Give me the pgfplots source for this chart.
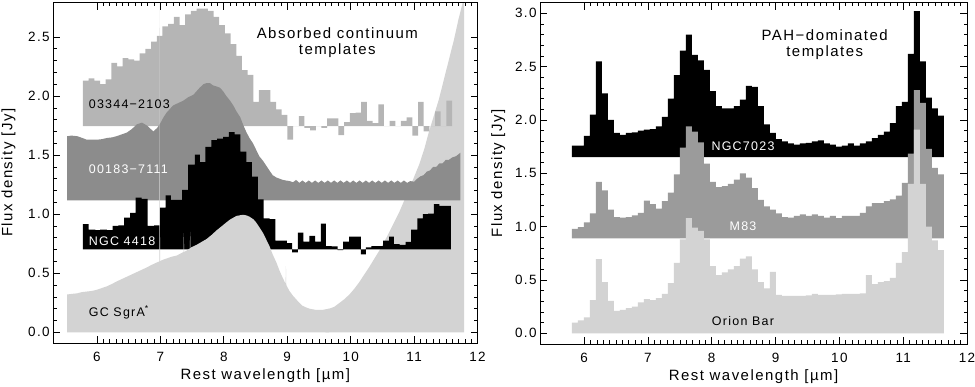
\documentclass[border=0pt]{standalone}
\usepackage{fontspec}
\setmainfont{Liberation Sans}[LetterSpace=10]
\usepackage{pgfplots}
\pgfplotsset{compat=1.18}
\usepackage{pgfplotstable}

\definecolor{cLight}{RGB}{211,211,211}
\definecolor{cB}{RGB}{181,181,181}
\definecolor{cC}{RGB}{140,140,140}
\definecolor{cD}{RGB}{155,155,155}

% ---------- left panel data ----------
\pgfplotstableread{
x y
5.780 1.745
5.780 2.13
5.870 2.15
5.959 2.13
6.049 2.10
6.138 2.14
6.228 2.28
6.317 2.25
6.407 2.32
6.496 2.31
6.586 2.30
6.675 2.36
6.765 2.40
6.854 2.46
6.944 2.51
7.033 2.59
7.123 2.61
7.212 2.67
7.302 2.60
7.391 2.69
7.481 2.72
7.570 2.74
7.660 2.74
7.749 2.72
7.839 2.67
7.928 2.60
8.018 2.53
8.108 2.44
8.197 2.34
8.287 2.22
8.376 2.18
8.466 1.95
8.555 2.05
8.645 2.05
8.734 1.95
8.824 1.886
8.913 1.84
9.003 1.63
9.092 1.745
9.182 1.83
9.271 1.73
9.361 1.71
9.450 1.745
9.540 1.73
9.629 1.81
9.719 1.81
9.808 1.67
9.898 1.78
9.987 1.855
10.077 1.86
10.166 1.95
10.256 1.79
10.346 1.77
10.435 1.93
10.525 1.745
10.614 1.79
10.704 1.745
10.793 1.79
10.883 1.82
10.972 1.665
11.062 1.95
11.151 1.70
11.241 1.745
11.330 1.87
11.420 1.745
11.509 1.96
11.599 1.96
11.599 1.745
}\tabIRAS

\pgfplotstableread{
x y
5.780 0.703
5.780 0.915
5.869 0.87
5.974 0.865
6.052 0.87
6.157 0.865
6.246 0.90
6.340 0.905
6.429 0.97
6.523 1.01
6.612 1.14
6.706 1.13
6.801 0.90
6.900 0.905
6.994 1.056
7.083 1.16
7.165 1.12
7.255 1.12
7.345 1.205
7.439 1.42
7.543 1.505
7.622 1.44
7.711 1.57
7.805 1.627
7.894 1.64
7.988 1.655
8.082 1.695
8.171 1.675
8.260 1.53
8.355 1.44
8.444 1.317
8.538 1.126
8.627 0.965
8.721 0.957
8.815 0.775
8.904 0.775
8.993 0.755
9.077 0.676
9.166 0.844
9.255 0.768
9.349 0.817
9.438 0.768
9.532 0.92
9.610 0.73
9.700 0.727
9.793 0.695
9.882 0.768
9.977 0.81
10.066 0.81
10.160 0.66
10.238 0.718
10.327 0.73
10.421 0.73
10.510 0.775
10.605 0.81
10.683 0.746
10.772 0.74
10.866 0.765
10.955 0.87
11.050 0.965
11.138 1.00
11.222 1.005
11.311 1.085
11.400 1.07
11.494 1.07
11.578 1.07
11.578 0.703
}\tabNGCfour

% ---------- right panel data ----------
\pgfplotstableread{
x y
5.810 1.651
5.810 1.76
5.904 1.76
5.998 1.85
6.092 2.05
6.186 2.55
6.280 2.25
6.374 2.00
6.468 1.88
6.562 1.86
6.656 1.88
6.750 1.885
6.844 1.90
6.938 1.91
7.032 1.915
7.126 1.94
7.220 2.03
7.314 2.20
7.408 2.42
7.502 2.65
7.596 2.80
7.690 2.61
7.784 2.56
7.878 2.47
7.972 2.27
8.066 2.13
8.160 2.11
8.254 2.11
8.348 2.13
8.442 2.19
8.536 2.32
8.630 2.31
8.724 2.13
8.818 1.96
8.912 1.88
9.006 1.82
9.100 1.80
9.194 1.78
9.288 1.77
9.382 1.78
9.476 1.785
9.570 1.80
9.664 1.81
9.758 1.78
9.852 1.77
9.946 1.75
10.040 1.76
10.134 1.78
10.228 1.76
10.322 1.78
10.416 1.80
10.510 1.83
10.604 1.86
10.698 1.89
10.792 1.97
10.886 2.13
10.980 2.17
11.074 2.62
11.168 3.02
11.262 2.55
11.356 2.21
11.450 2.11
11.544 2.04
11.638 2.04
11.638 1.651
}\tabNGCseven

\pgfplotstableread{
x y
5.810 0.891
5.810 0.98
5.904 0.995
5.998 1.04
6.092 1.125
6.186 1.42
6.280 1.34
6.374 1.16
6.468 1.09
6.562 1.085
6.656 1.09
6.750 1.105
6.844 1.13
6.938 1.245
7.032 1.21
7.126 1.17
7.220 1.24
7.314 1.32
7.408 1.49
7.502 1.74
7.596 1.94
7.690 1.89
7.784 1.79
7.878 1.59
7.972 1.42
8.066 1.37
8.160 1.38
8.254 1.40
8.348 1.44
8.442 1.50
8.536 1.46
8.630 1.36
8.724 1.25
8.818 1.19
8.912 1.16
9.006 1.125
9.100 1.09
9.194 1.085
9.288 1.10
9.382 1.115
9.476 1.10
9.570 1.115
9.664 1.10
9.758 1.085
9.852 1.10
9.946 1.08
10.040 1.10
10.134 1.10
10.228 1.10
10.322 1.13
10.416 1.19
10.510 1.22
10.604 1.22
10.698 1.24
10.792 1.255
10.886 1.29
10.980 1.41
11.074 1.685
11.168 2.28
11.262 2.16
11.356 1.73
11.450 1.55
11.544 1.49
11.638 1.49
11.638 0.891
}\tabMeightthree

\pgfplotstableread{
x y
5.810 0
5.810 0.10
5.904 0.12
5.998 0.15
6.092 0.31
6.186 0.695
6.280 0.48
6.374 0.305
6.468 0.21
6.562 0.22
6.656 0.235
6.750 0.25
6.844 0.29
6.938 0.32
7.032 0.31
7.126 0.33
7.220 0.37
7.314 0.47
7.408 0.66
7.502 0.88
7.596 1.08
7.690 0.99
7.784 0.96
7.878 0.88
7.972 0.63
8.066 0.545
8.160 0.57
8.254 0.60
8.348 0.63
8.442 0.70
8.536 0.72
8.630 0.60
8.724 0.48
8.818 0.42
8.912 0.575
9.006 0.36
9.100 0.35
9.194 0.35
9.288 0.35
9.382 0.35
9.476 0.355
9.570 0.37
9.664 0.36
9.758 0.36
9.852 0.36
9.946 0.365
10.040 0.37
10.134 0.37
10.228 0.37
10.322 0.375
10.416 0.545
10.510 0.46
10.604 0.48
10.698 0.49
10.792 0.52
10.886 0.66
10.980 0.76
11.074 1.40
11.168 1.91
11.262 1.40
11.356 1.00
11.450 0.87
11.544 0.78
11.638 0.78
11.638 0
}\tabOrion

\pgfplotsset{
  panel/.style={
    scale only axis,
    xmin=5.31, xmax=12,
    xtick={6,7,8,9,10,11,12},
    minor x tick num=9,
    minor y tick num=4,
    tick align=inside,
    major tick length=7pt,
    minor tick length=3.5pt,
    axis line style={line width=0.8pt},
    every tick/.style={black, line width=0.6pt},
    /pgf/number format/assume math mode=true,
    tick label style={font=\fontsize{13.5}{16}\selectfont},
    yticklabel style={/pgf/number format/fixed, /pgf/number format/fixed zerofill, /pgf/number format/precision=1},
    xticklabel style={yshift=-6pt},
    label style={font=\fontsize{15}{18}\selectfont},
    xlabel={Rest wavelength [µm]},
    ylabel={Flux density [Jy]},
    xlabel style={at={(axis description cs:0.5,-0.097)}, anchor=center},
    axis on top,
  },
}
\tikzset{
  lab/.style={inner sep=0pt, font=\fontsize{12.5}{15}\selectfont},
  ttl/.style={inner sep=0pt, font=\fontsize{15}{18}\selectfont},
}

\begin{document}
\begin{tikzpicture}
\path[use as bounding box] (0,0) rectangle (978pt,388pt);

% ================= LEFT PANEL =================
\begin{axis}[panel,
  at={(53.3pt,44pt)}, anchor=south west,
  width=425.7pt, height=341.3pt,
  ymin=-0.09, ymax=2.79,
  ytick={0,0.5,1,1.5,2,2.5},
  ylabel style={at={(axis description cs:-0.105,0.5)}, anchor=center},
]
% GC SgrA* (rising right part, drawn first)
\addplot[fill=cLight, draw=none] coordinates {
(9.60,0) (9.60,0.193) (9.66,0.20) (9.74,0.215) (9.82,0.247) (9.90,0.28) (9.98,0.32)
(10.06,0.37) (10.13,0.42) (10.21,0.485) (10.29,0.55) (10.37,0.62) (10.45,0.69)
(10.53,0.765) (10.60,0.84) (10.68,0.925) (10.76,1.01) (10.84,1.11) (10.92,1.21)
(11.00,1.315) (11.08,1.42) (11.16,1.55) (11.23,1.69) (11.31,1.83) (11.39,1.97)
(11.47,2.14) (11.55,2.31) (11.63,2.48) (11.70,2.65) (11.78,2.82) (11.79,2.85) (11.79,0)
} -- cycle;
% 03344-2103
\addplot[const plot, fill=cB, draw=none] table {\tabIRAS} -- cycle;
% 00183-7111
\addplot[fill=cC, draw=none] coordinates {
(5.53,1.117) (5.53,1.66) (5.60,1.665) (5.69,1.66) (5.77,1.645) (5.84,1.63) (5.92,1.63)
(6.00,1.63) (6.08,1.635) (6.16,1.645) (6.24,1.65) (6.31,1.66) (6.39,1.675) (6.47,1.69)
(6.55,1.72) (6.63,1.76) (6.71,1.775) (6.79,1.75) (6.85,1.72) (6.89,1.70) (6.95,1.73)
(7.00,1.77) (7.05,1.82) (7.10,1.86) (7.20,1.92) (7.28,1.94) (7.36,1.96) (7.44,1.99)
(7.52,2.01) (7.57,2.04) (7.62,2.07) (7.68,2.10) (7.73,2.11) (7.78,2.11) (7.83,2.09)
(7.89,2.08) (7.94,2.07) (7.99,2.04) (8.04,2.00) (8.10,1.96) (8.15,1.92) (8.20,1.87)
(8.26,1.82) (8.31,1.75) (8.36,1.69) (8.41,1.64) (8.46,1.60) (8.51,1.545) (8.56,1.49)
(8.62,1.45) (8.67,1.41) (8.72,1.37) (8.77,1.33) (8.83,1.31) (8.88,1.30) (8.93,1.29)
(8.98,1.285) (9.04,1.28) (9.09,1.27) (9.14,1.29) (9.19,1.265) (9.24,1.285) (9.29,1.265)
(9.34,1.285) (9.39,1.265) (9.44,1.285) (9.49,1.265) (9.54,1.285) (9.59,1.265)
(9.64,1.285) (9.69,1.265) (9.74,1.285) (9.79,1.265) (9.84,1.285) (9.89,1.265)
(9.94,1.285) (9.99,1.265) (10.04,1.285) (10.09,1.265) (10.14,1.285) (10.19,1.265)
(10.24,1.285) (10.29,1.265) (10.34,1.285) (10.39,1.265) (10.44,1.285) (10.49,1.265)
(10.54,1.285) (10.59,1.265) (10.64,1.285) (10.69,1.265) (10.74,1.285) (10.79,1.265)
(10.84,1.285) (10.89,1.265) (10.94,1.28) (11.00,1.275) (11.05,1.30) (11.10,1.32)
(11.15,1.33) (11.20,1.36) (11.25,1.37) (11.30,1.40) (11.35,1.40) (11.40,1.43)
(11.45,1.43) (11.50,1.46) (11.55,1.46) (11.60,1.48) (11.66,1.49) (11.73,1.52) (11.73,1.117)
} -- cycle;
% NGC 4418
\addplot[const plot, fill=black, draw=none] table {\tabNGCfour} -- cycle;
% GC SgrA* (left part, drawn last)
\addplot[fill=cLight, draw=none] coordinates {
(5.53,0) (5.53,0.32) (5.60,0.325) (5.69,0.33) (5.76,0.34) (5.84,0.345) (5.92,0.35)
(6.00,0.36) (6.08,0.375) (6.16,0.39) (6.24,0.41) (6.31,0.43) (6.39,0.45) (6.47,0.47)
(6.55,0.49) (6.63,0.51) (6.71,0.53) (6.79,0.55) (6.86,0.57) (6.94,0.59) (6.985,0.60)
(6.99,2.85) (6.995,0.60) (7.02,0.61) (7.10,0.625) (7.18,0.64) (7.26,0.65) (7.33,0.67)
(7.365,0.68) (7.37,0.84) (7.375,0.68) (7.41,0.69) (7.465,0.71) (7.47,0.85) (7.475,0.71)
(7.49,0.72) (7.57,0.74) (7.65,0.765) (7.73,0.79) (7.81,0.825) (7.88,0.86) (7.96,0.895)
(8.04,0.93) (8.10,0.955) (8.15,0.97) (8.20,0.985) (8.25,0.99) (8.30,0.995) (8.355,0.99)
(8.40,0.98) (8.43,0.97) (8.47,0.955) (8.51,0.93) (8.56,0.89) (8.62,0.84) (8.67,0.785)
(8.72,0.73) (8.77,0.66) (8.83,0.59) (8.88,0.52) (8.93,0.46) (8.975,0.41) (8.98,0.56)
(8.985,0.40) (9.035,0.35) (9.09,0.31) (9.14,0.28) (9.19,0.25) (9.24,0.225) (9.30,0.21)
(9.35,0.20) (9.40,0.195) (9.45,0.19) (9.51,0.19) (9.56,0.19) (9.61,0.195) (9.66,0.20) (9.66,0)
} -- cycle;

\node[lab, anchor=west] at (axis cs:5.87,1.93) {03344−2103};
\node[lab, anchor=west, text=white] at (axis cs:5.87,1.38) {00183−7111};
\node[lab, anchor=west, text=white] at (axis cs:5.87,0.775) {NGC 4418};
\node[lab, anchor=west] at (axis cs:5.87,0.17) {GC SgrA\textsuperscript{*}};
\node[ttl] at (axis cs:9.79,2.53) {Absorbed continuum};
\node[ttl] at (axis cs:9.79,2.385) {templates};
\end{axis}

% ================= RIGHT PANEL =================
\begin{axis}[panel,
  at={(541.7pt,43pt)}, anchor=south west,
  width=428.3pt, height=342.3pt,
  ymin=-0.1, ymax=3.1,
  ytick={0,0.5,1,1.5,2,2.5,3},
  ylabel style={at={(axis description cs:-0.098,0.5)}, anchor=center},
]
\addplot[const plot, fill=black, draw=none] table {\tabNGCseven} -- cycle;
\addplot[const plot, fill=cD, draw=none] table {\tabMeightthree} -- cycle;
\addplot[const plot, fill=cLight, draw=none] table {\tabOrion} -- cycle;

\node[lab, text=white] at (axis cs:8.49,1.75) {NGC7023};
\node[lab, text=white] at (axis cs:8.49,1.00) {M83};
\node[lab] at (axis cs:8.49,0.11) {Orion Bar};
\node[ttl] at (axis cs:9.77,2.80) {PAH−dominated};
\node[ttl] at (axis cs:9.77,2.63) {templates};
\end{axis}
\end{tikzpicture}
\end{document}
